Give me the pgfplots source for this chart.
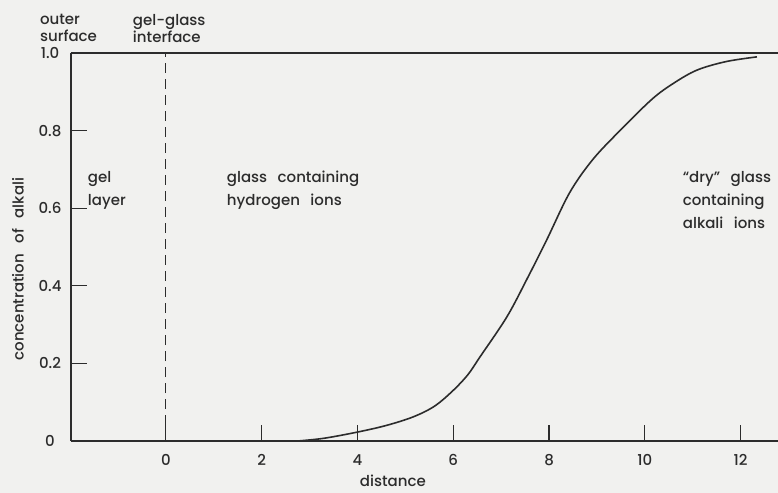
\documentclass[border=0pt]{standalone}
\usepackage{fontspec}
\setmainfont{Poppins Medium}
\usepackage{pgfplots}
\pgfplotsset{compat=1.18}
\definecolor{ink}{HTML}{2C2C2C}
\definecolor{paper}{HTML}{F1F1EF}
\newcommand\lbl{\fontsize{15bp}{17bp}\selectfont\spaceskip=0.7em plus 0.1em\relax}
\newcommand\lblwide{\fontsize{15bp}{23bp}\selectfont\spaceskip=0.7em plus 0.1em\relax}
\begin{document}
\begin{tikzpicture}
% page area with a light paper tone
\path[fill=paper, use as bounding box] (-71bp,-52bp) rectangle (707bp,441bp);
\begin{axis}[
  scale only axis, width=707bp, height=388bp,
  xmin=-1.98, xmax=12.78, ymin=0, ymax=1,
  axis x line*=bottom, axis y line*=left,
  axis line style={ink, line width=1.4bp},
  xtick={0,2,4,6,8,10,12}, xticklabels={0,2,4,6,8,10,12},
  ytick={0,0.2,0.4,0.6,0.8,1}, yticklabels={0,0.2,0.4,0.6,0.8,1.0},
  tick align=inside, major tick length=16bp,
  tick style={ink, line width=1.2bp},
  ticklabel style={font=\lbl, text=ink},
  xticklabel style={anchor=center, yshift=-19bp},
  yticklabel style={anchor=center, xshift=-21bp},
  clip=false,
]
% upper bound of the concentration
\draw[ink, line width=1.4bp] (rel axis cs:0,1) -- (rel axis cs:1,1);
% gel-glass interface
\addplot[ink, line width=1.2bp, dash pattern=on 10bp off 6bp] coordinates {(0,0) (0,1)};
% alkali concentration profile
\addplot[ink, line width=1.6bp, smooth, tension=0.55] coordinates {
  (2.75,0) (3.3,0.007) (4.0,0.023) (4.6,0.040) (5.16,0.062) (5.6,0.089)
  (5.97,0.127) (6.3,0.17) (6.56,0.217) (7.12,0.32) (7.55,0.42) (7.95,0.518)
  (8.43,0.64) (8.91,0.725) (9.48,0.80) (10.15,0.881) (10.6,0.922)
  (11.09,0.956) (11.7,0.978) (12.34,0.99)
};
% region labels
\node[font=\lblwide, text=ink, align=left, anchor=west, inner sep=0pt] at (axis cs:-1.63,0.646) {gel\\layer};
\node[font=\lblwide, text=ink, align=left, anchor=west, inner sep=0pt] at (axis cs:1.27,0.646) {glass containing\\hydrogen ions};
\node[font=\lblwide, text=ink, align=left, anchor=west, inner sep=0pt] at (axis cs:10.79,0.621) {“dry” glass\\containing\\alkali ions};
\node[font=\lbl, text=ink, align=left, anchor=west, inner sep=0pt] at (axis cs:-2.63,1.064) {outer\\surface};
\node[font=\lbl, text=ink, align=left, anchor=west, inner sep=0pt] at (axis cs:-0.69,1.064) {gel-glass\\interface};
% axis titles
\node[font=\lbl, text=ink, inner sep=0pt] at ([yshift=-40bp]axis cs:4.74,0) {distance};
\node[font=\lbl, text=ink, rotate=90, inner sep=0pt] at ([xshift=-53bp]rel axis cs:0,0.443) {concentration of alkali};
\end{axis}
\end{tikzpicture}
\end{document}
